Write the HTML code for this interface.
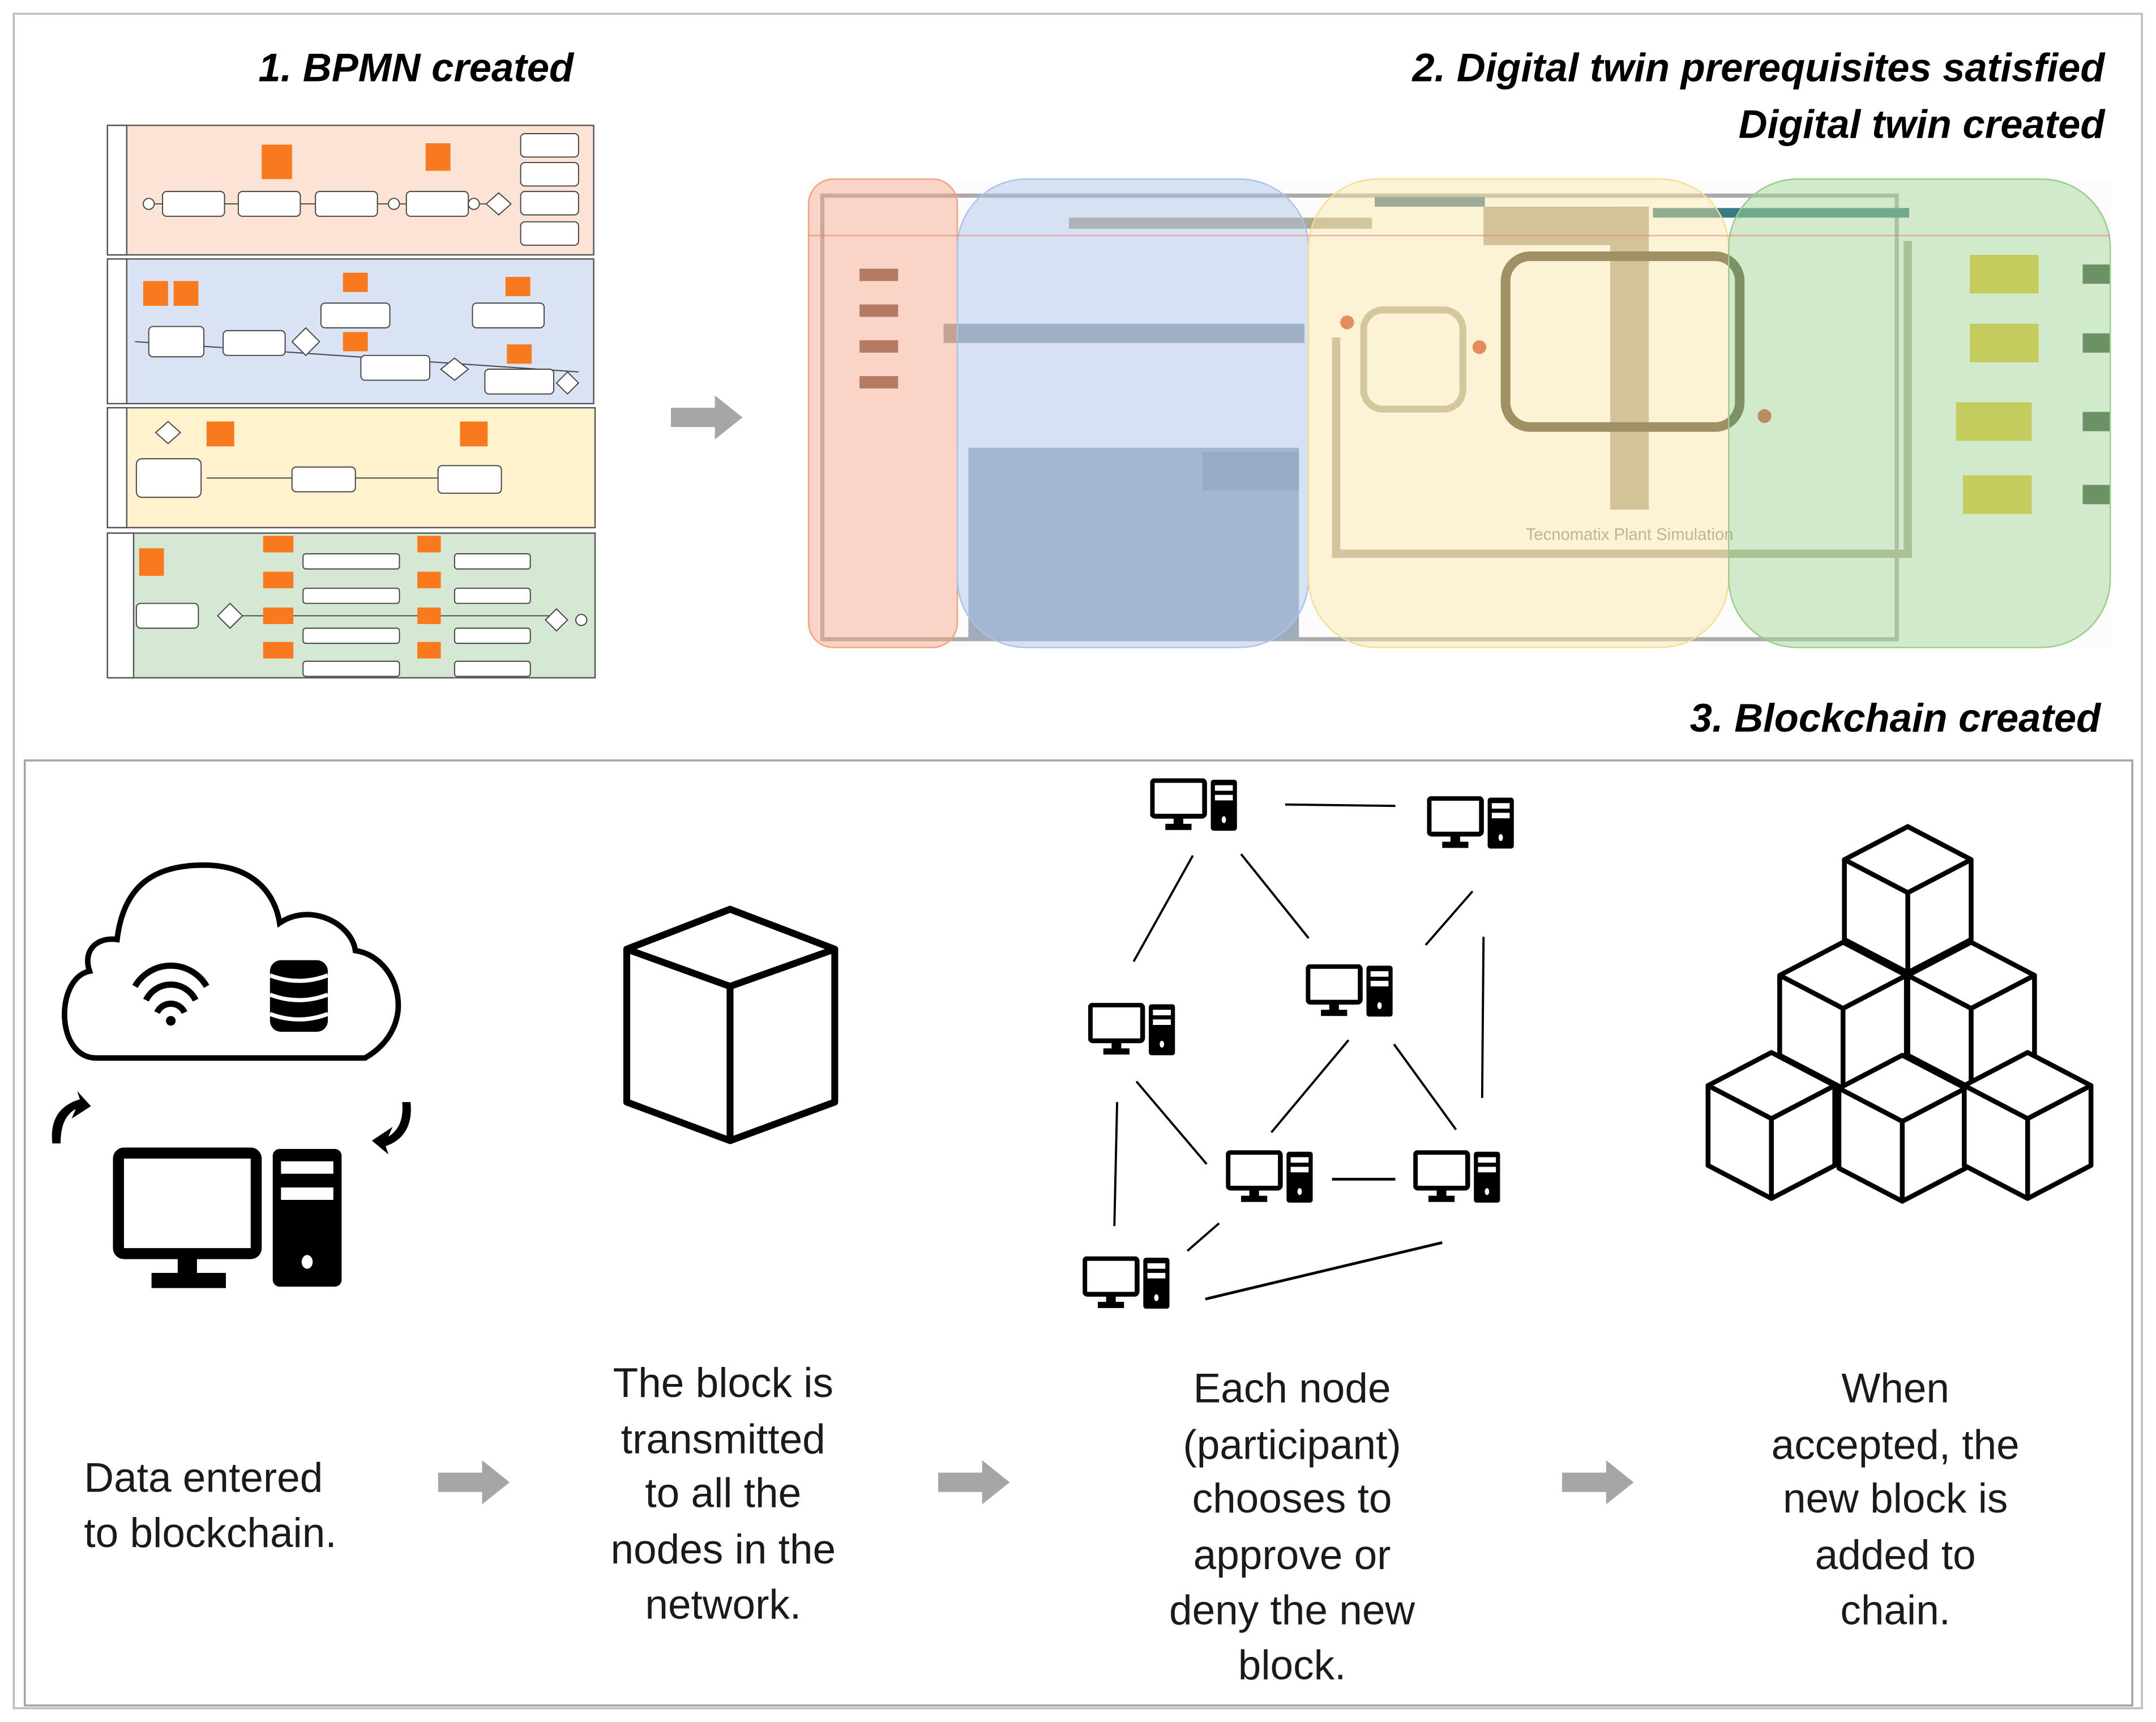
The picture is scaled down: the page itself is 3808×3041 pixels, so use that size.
<!DOCTYPE html>
<html><head><meta charset="utf-8"><style>
html,body{margin:0;padding:0;background:#fff}
svg{display:block}
text{font-family:"Liberation Sans",sans-serif}
</style></head><body>
<svg width="3808" height="3041" viewBox="0 0 1565.2 1250" preserveAspectRatio="none" xmlns="http://www.w3.org/2000/svg">
<defs>
<symbol id="pc" viewBox="0 0 64 38">
<rect x="1.5" y="1.5" width="38" height="26" rx="2" fill="#fff" stroke="#000" stroke-width="3.5"/>
<rect x="17" y="28" width="7" height="6" fill="#000"/>
<rect x="11" y="33" width="19" height="4.5" fill="#000"/>
<rect x="44" y="1" width="19" height="37" rx="2" fill="#000"/>
<rect x="47" y="5" width="13" height="4" fill="#fff"/>
<rect x="47" y="12" width="13" height="4" fill="#fff"/>
<ellipse cx="53.5" cy="30" rx="1.6" ry="2.5" fill="#fff"/>
</symbol>
<symbol id="cube" viewBox="0 0 96 110">
<path d="M48 2 L94 26 L94 84 L48 108 L2 84 L2 26 Z" fill="#fff" stroke="#000" stroke-width="3.5" stroke-linejoin="round"/>
<path d="M2 26 L48 50 L94 26 M48 50 L48 108" fill="none" stroke="#000" stroke-width="3.5" stroke-linejoin="round"/>
</symbol>
<symbol id="arr" viewBox="0 0 52 32">
<path d="M0 9 H32 V0 L52 16 L32 32 V23 H0 Z" fill="#a6a6a6"/>
</symbol>
</defs>
<rect width="1565.2" height="1250" fill="#fff"/>
<rect x="10" y="10" width="1545" height="1230" fill="none" stroke="#bfbfbf" stroke-width="1.5"/>
<rect x="18" y="552" width="1530" height="686" fill="none" stroke="#a6a6a6" stroke-width="1.5"/>

<g font-weight="bold" font-style="italic" font-size="29" fill="#000">
<text x="302" y="59" text-anchor="middle">1. BPMN created</text>
<text x="1528" y="59" text-anchor="end">2. Digital twin prerequisites satisfied</text>
<text x="1528" y="100" text-anchor="end">Digital twin created</text>
<text x="1525" y="531" text-anchor="end">3. Blockchain created</text>
</g>

<!-- BPMN -->
<g stroke="#555" stroke-width="1">
<rect x="78" y="91" width="353" height="94" fill="#fbe4d5"/>
<rect x="78" y="188" width="353" height="105" fill="#dae3f3"/>
<rect x="78" y="296" width="354" height="87" fill="#fff2cc"/>
<rect x="78" y="387" width="354" height="105" fill="#d5e8d4"/>
<rect x="78" y="91" width="14" height="94" fill="#fff"/>
<rect x="78" y="188" width="14" height="105" fill="#fff"/>
<rect x="78" y="296" width="14" height="87" fill="#fff"/>
<rect x="78" y="387" width="19" height="105" fill="#fff"/>
</g>
<g stroke="#444" stroke-width="0.8" fill="#fff">
<line x1="108" y1="148" x2="362" y2="148"/>
<rect x="118" y="139" width="45" height="18" rx="3"/>
<rect x="173" y="139" width="45" height="18" rx="3"/>
<rect x="229" y="139" width="45" height="18" rx="3"/>
<rect x="295" y="139" width="45" height="18" rx="3"/>
<circle cx="108" cy="148" r="4"/><circle cx="286" cy="148" r="4"/><circle cx="344" cy="148" r="4"/>
<path d="M362 140 L371 148 L362 156 L353 148Z"/>
<rect x="378" y="97" width="42" height="17" rx="3"/><rect x="378" y="118" width="42" height="17" rx="3"/>
<rect x="378" y="139" width="42" height="17" rx="3"/><rect x="378" y="161" width="42" height="17" rx="3"/>
<line x1="98" y1="248" x2="420" y2="270"/>
<rect x="108" y="237" width="40" height="22" rx="3"/>
<rect x="162" y="240" width="45" height="18" rx="3"/>
<path d="M222 238 L232 248 L222 258 L212 248Z"/>
<rect x="233" y="220" width="50" height="18" rx="3"/>
<rect x="262" y="258" width="50" height="18" rx="3"/>
<path d="M330 260 L340 268 L330 276 L320 268Z"/>
<rect x="343" y="220" width="52" height="18" rx="3"/>
<rect x="352" y="268" width="50" height="18" rx="3"/>
<path d="M412 270 L420 278 L412 286 L404 278Z"/>
<line x1="150" y1="347" x2="320" y2="347"/>
<path d="M122 306 L131 314 L122 322 L113 314Z"/>
<rect x="99" y="333" width="47" height="28" rx="4"/>
<rect x="212" y="339" width="46" height="18" rx="3"/>
<rect x="318" y="338" width="46" height="20" rx="3"/>
<line x1="164" y1="447" x2="404" y2="447"/>
<rect x="99" y="438" width="45" height="18" rx="3"/>
<path d="M167 438 L176 447 L167 456 L158 447Z"/>
<rect x="220" y="402" width="70" height="11" rx="2"/><rect x="220" y="427" width="70" height="11" rx="2"/>
<rect x="220" y="456" width="70" height="11" rx="2"/><rect x="220" y="480" width="70" height="11" rx="2"/>
<rect x="330" y="402" width="55" height="11" rx="2"/><rect x="330" y="427" width="55" height="11" rx="2"/>
<rect x="330" y="456" width="55" height="11" rx="2"/><rect x="330" y="480" width="55" height="11" rx="2"/>
<path d="M404 442 L412 450 L404 458 L396 450Z"/><circle cx="422" cy="450" r="4"/>
</g>
<g fill="#f97a1c">
<rect x="190" y="105" width="22" height="25"/><rect x="309" y="104" width="18" height="20"/>
<rect x="104" y="204" width="18" height="18"/><rect x="126" y="204" width="18" height="18"/>
<rect x="249" y="198" width="18" height="14"/><rect x="249" y="241" width="18" height="14"/>
<rect x="367" y="201" width="18" height="14"/><rect x="368" y="250" width="18" height="14"/>
<rect x="150" y="306" width="20" height="18"/><rect x="334" y="306" width="20" height="18"/>
<rect x="101" y="398" width="18" height="20"/>
<rect x="191" y="389" width="22" height="12"/><rect x="191" y="415" width="22" height="12"/>
<rect x="191" y="441" width="22" height="12"/><rect x="191" y="466" width="22" height="12"/>
<rect x="303" y="389" width="17" height="12"/><rect x="303" y="415" width="17" height="12"/>
<rect x="303" y="441" width="17" height="12"/><rect x="303" y="466" width="17" height="12"/>
</g>

<use href="#arr" x="487" y="287" width="52" height="32"/>

<!-- Digital twin -->
<rect x="587" y="130" width="945" height="340" fill="#fcfcfc"/>
<rect x="597" y="142" width="780" height="322" fill="none" stroke="#aaa" stroke-width="3"/>
<rect x="703" y="325" width="240" height="140" fill="#a2adbc"/>
<rect x="873" y="328" width="70" height="28" fill="#8a96a6"/>
<rect x="685" y="235" width="262" height="14" fill="#9aa0a6"/>
<rect x="776" y="158" width="220" height="8" fill="#b0a890"/>
<rect x="1077" y="150" width="120" height="28" fill="#b0a48c"/>
<rect x="1169" y="150" width="28" height="220" fill="#b0a48c"/>
<rect x="1093" y="186" width="170" height="124" rx="18" fill="none" stroke="#54492e" stroke-width="7"/>
<rect x="990" y="225" width="72" height="72" rx="14" fill="none" stroke="#b5ab92" stroke-width="5"/>
<rect x="998" y="143" width="80" height="7" fill="#4d7b87"/>
<rect x="1200" y="151" width="186" height="7" fill="#3a7a82"/>
<path d="M970 245 V402 H1385 V175" fill="none" stroke="#b0a890" stroke-width="6"/>
<g fill="#e0c020">
<rect x="1430" y="185" width="50" height="28"/><rect x="1430" y="235" width="50" height="28"/>
<rect x="1420" y="292" width="55" height="28"/><rect x="1425" y="345" width="50" height="28"/>
</g>
<g fill="#2e4a2e"><rect x="1512" y="192" width="20" height="14"/><rect x="1512" y="242" width="20" height="14"/><rect x="1512" y="299" width="20" height="14"/><rect x="1512" y="352" width="20" height="14"/></g>
<g fill="#7a5a48"><rect x="624" y="195" width="28" height="9"/><rect x="624" y="221" width="28" height="9"/><rect x="624" y="247" width="28" height="9"/><rect x="624" y="273" width="28" height="9"/></g>
<g fill="#d04020"><circle cx="978" cy="234" r="5"/><circle cx="1074" cy="252" r="5"/><circle cx="1281" cy="302" r="5"/></g>
<text x="1183" y="392" font-size="12" text-anchor="middle" fill="#8a8a8a">Tecnomatix Plant Simulation</text>
<rect x="587" y="130" width="108" height="340" rx="18" fill="#f8a583" fill-opacity="0.45" stroke="#f4a080" stroke-width="1"/>
<rect x="695" y="130" width="255" height="340" rx="50" fill="#a9c4e8" fill-opacity="0.45" stroke="#a9c4e8" stroke-width="1"/>
<rect x="950" y="130" width="305" height="340" rx="50" fill="#fde9a8" fill-opacity="0.45" stroke="#f7dd90" stroke-width="1"/>
<rect x="1255" y="130" width="277" height="340" rx="50" fill="#a8d89c" fill-opacity="0.5" stroke="#98cc88" stroke-width="1"/>
<line x1="587" y1="171" x2="1532" y2="171" stroke="#f08080" stroke-width="1" opacity="0.6"/>

<!-- lower -->
<path d="M70 768 C40 768 40 710 65 705 C60 690 70 680 85 682 C90 640 115 628 148 628 C185 628 200 650 203 670 C225 655 255 670 258 690 C290 695 305 745 265 768 Z" fill="none" stroke="#000" stroke-width="4"/>
<g fill="none" stroke="#000" stroke-width="4.5">
<path d="M98 716 A30 30 0 0 1 150 716"/><path d="M106 726 A20 20 0 0 1 142 726"/><path d="M114 735 A11 11 0 0 1 134 735"/>
</g>
<circle cx="124" cy="741" r="3.5" fill="#000"/>
<g fill="#000"><rect x="196" y="697" width="42" height="52" rx="8"/></g>
<g stroke="#fff" stroke-width="3" fill="none"><path d="M196 708 Q217 716 238 708"/><path d="M196 722 Q217 730 238 722"/><path d="M196 736 Q217 744 238 736"/></g>
<path d="M38 830 C36 812 44 802 58 798 L56 792 L66 803 L52 812 L55 805 C46 810 44 820 44 830 Z" fill="#000"/>
<path d="M298 800 C300 818 292 828 280 832 L282 838 L270 828 L285 818 L282 825 C290 820 293 812 292 800 Z" fill="#000"/>
<rect x="86" y="837" width="100" height="73" rx="4" fill="#fff" stroke="#000" stroke-width="8"/>
<rect x="129" y="912" width="14" height="14" fill="#000"/>
<rect x="110" y="924" width="54" height="11" fill="#000"/>
<rect x="198" y="834" width="50" height="100" rx="5" fill="#000"/>
<rect x="204" y="843" width="38" height="9" fill="#fff"/><rect x="204" y="862" width="38" height="9" fill="#fff"/>
<ellipse cx="223" cy="916" rx="4" ry="5" fill="#fff"/>

<path d="M530 660 L606 689 L606 800 L530 828 L455 800 L455 689 Z M455 689 L530 716 L606 689 M530 716 L530 828" fill="none" stroke="#000" stroke-width="5" stroke-linejoin="round"/>

<g stroke="#000" stroke-width="1.6">
<line x1="933" y1="584" x2="1013" y2="585"/>
<line x1="866" y1="621" x2="823" y2="698"/>
<line x1="901" y1="620" x2="950" y2="681"/>
<line x1="1069" y1="647" x2="1035" y2="686"/>
<line x1="1077" y1="680" x2="1076" y2="797"/>
<line x1="979" y1="755" x2="923" y2="822"/>
<line x1="1012" y1="758" x2="1057" y2="820"/>
<line x1="825" y1="785" x2="876" y2="845"/>
<line x1="811" y1="800" x2="809" y2="890"/>
<line x1="967" y1="856" x2="1013" y2="856" stroke-width="2"/>
<line x1="885" y1="888" x2="862" y2="908"/>
<line x1="875" y1="943" x2="1047" y2="902" stroke-width="2"/>
</g>
<use href="#pc" x="835" y="565" width="64" height="38"/>
<use href="#pc" x="1036" y="578" width="64" height="38"/>
<use href="#pc" x="948" y="700" width="64" height="38"/>
<use href="#pc" x="790" y="728" width="64" height="38"/>
<use href="#pc" x="890" y="835" width="64" height="38"/>
<use href="#pc" x="1026" y="835" width="64" height="38"/>
<use href="#pc" x="786" y="912" width="64" height="38"/>

<use href="#cube" x="1337" y="598" width="96" height="110"/>
<use href="#cube" x="1290" y="682" width="96" height="110"/>
<use href="#cube" x="1383" y="682" width="96" height="110"/>
<use href="#cube" x="1238" y="762" width="96" height="110"/>
<use href="#cube" x="1333" y="764" width="96" height="110"/>
<use href="#cube" x="1424" y="762" width="96" height="110"/>

<use href="#arr" x="318" y="1060" width="52" height="32"/>
<use href="#arr" x="681" y="1060" width="52" height="32"/>
<use href="#arr" x="1134" y="1060" width="52" height="32"/>

<g font-size="30" fill="#1a1a1a">
<text x="61" y="1083">Data entered</text>
<text x="61" y="1123">to blockchain.</text>
<g text-anchor="middle">
<text x="525" y="1014">The block is</text>
<text x="525" y="1055">transmitted</text>
<text x="525" y="1094">to all the</text>
<text x="525" y="1135">nodes in the</text>
<text x="525" y="1175">network.</text>
<text x="938" y="1018">Each node</text>
<text x="938" y="1059">(participant)</text>
<text x="938" y="1098">chooses to</text>
<text x="938" y="1139">approve or</text>
<text x="938" y="1179">deny the new</text>
<text x="938" y="1219">block.</text>
<text x="1376" y="1018">When</text>
<text x="1376" y="1059">accepted, the</text>
<text x="1376" y="1098">new block is</text>
<text x="1376" y="1139">added to</text>
<text x="1376" y="1179">chain.</text>
</g>
</g>
</svg>
</body></html>
